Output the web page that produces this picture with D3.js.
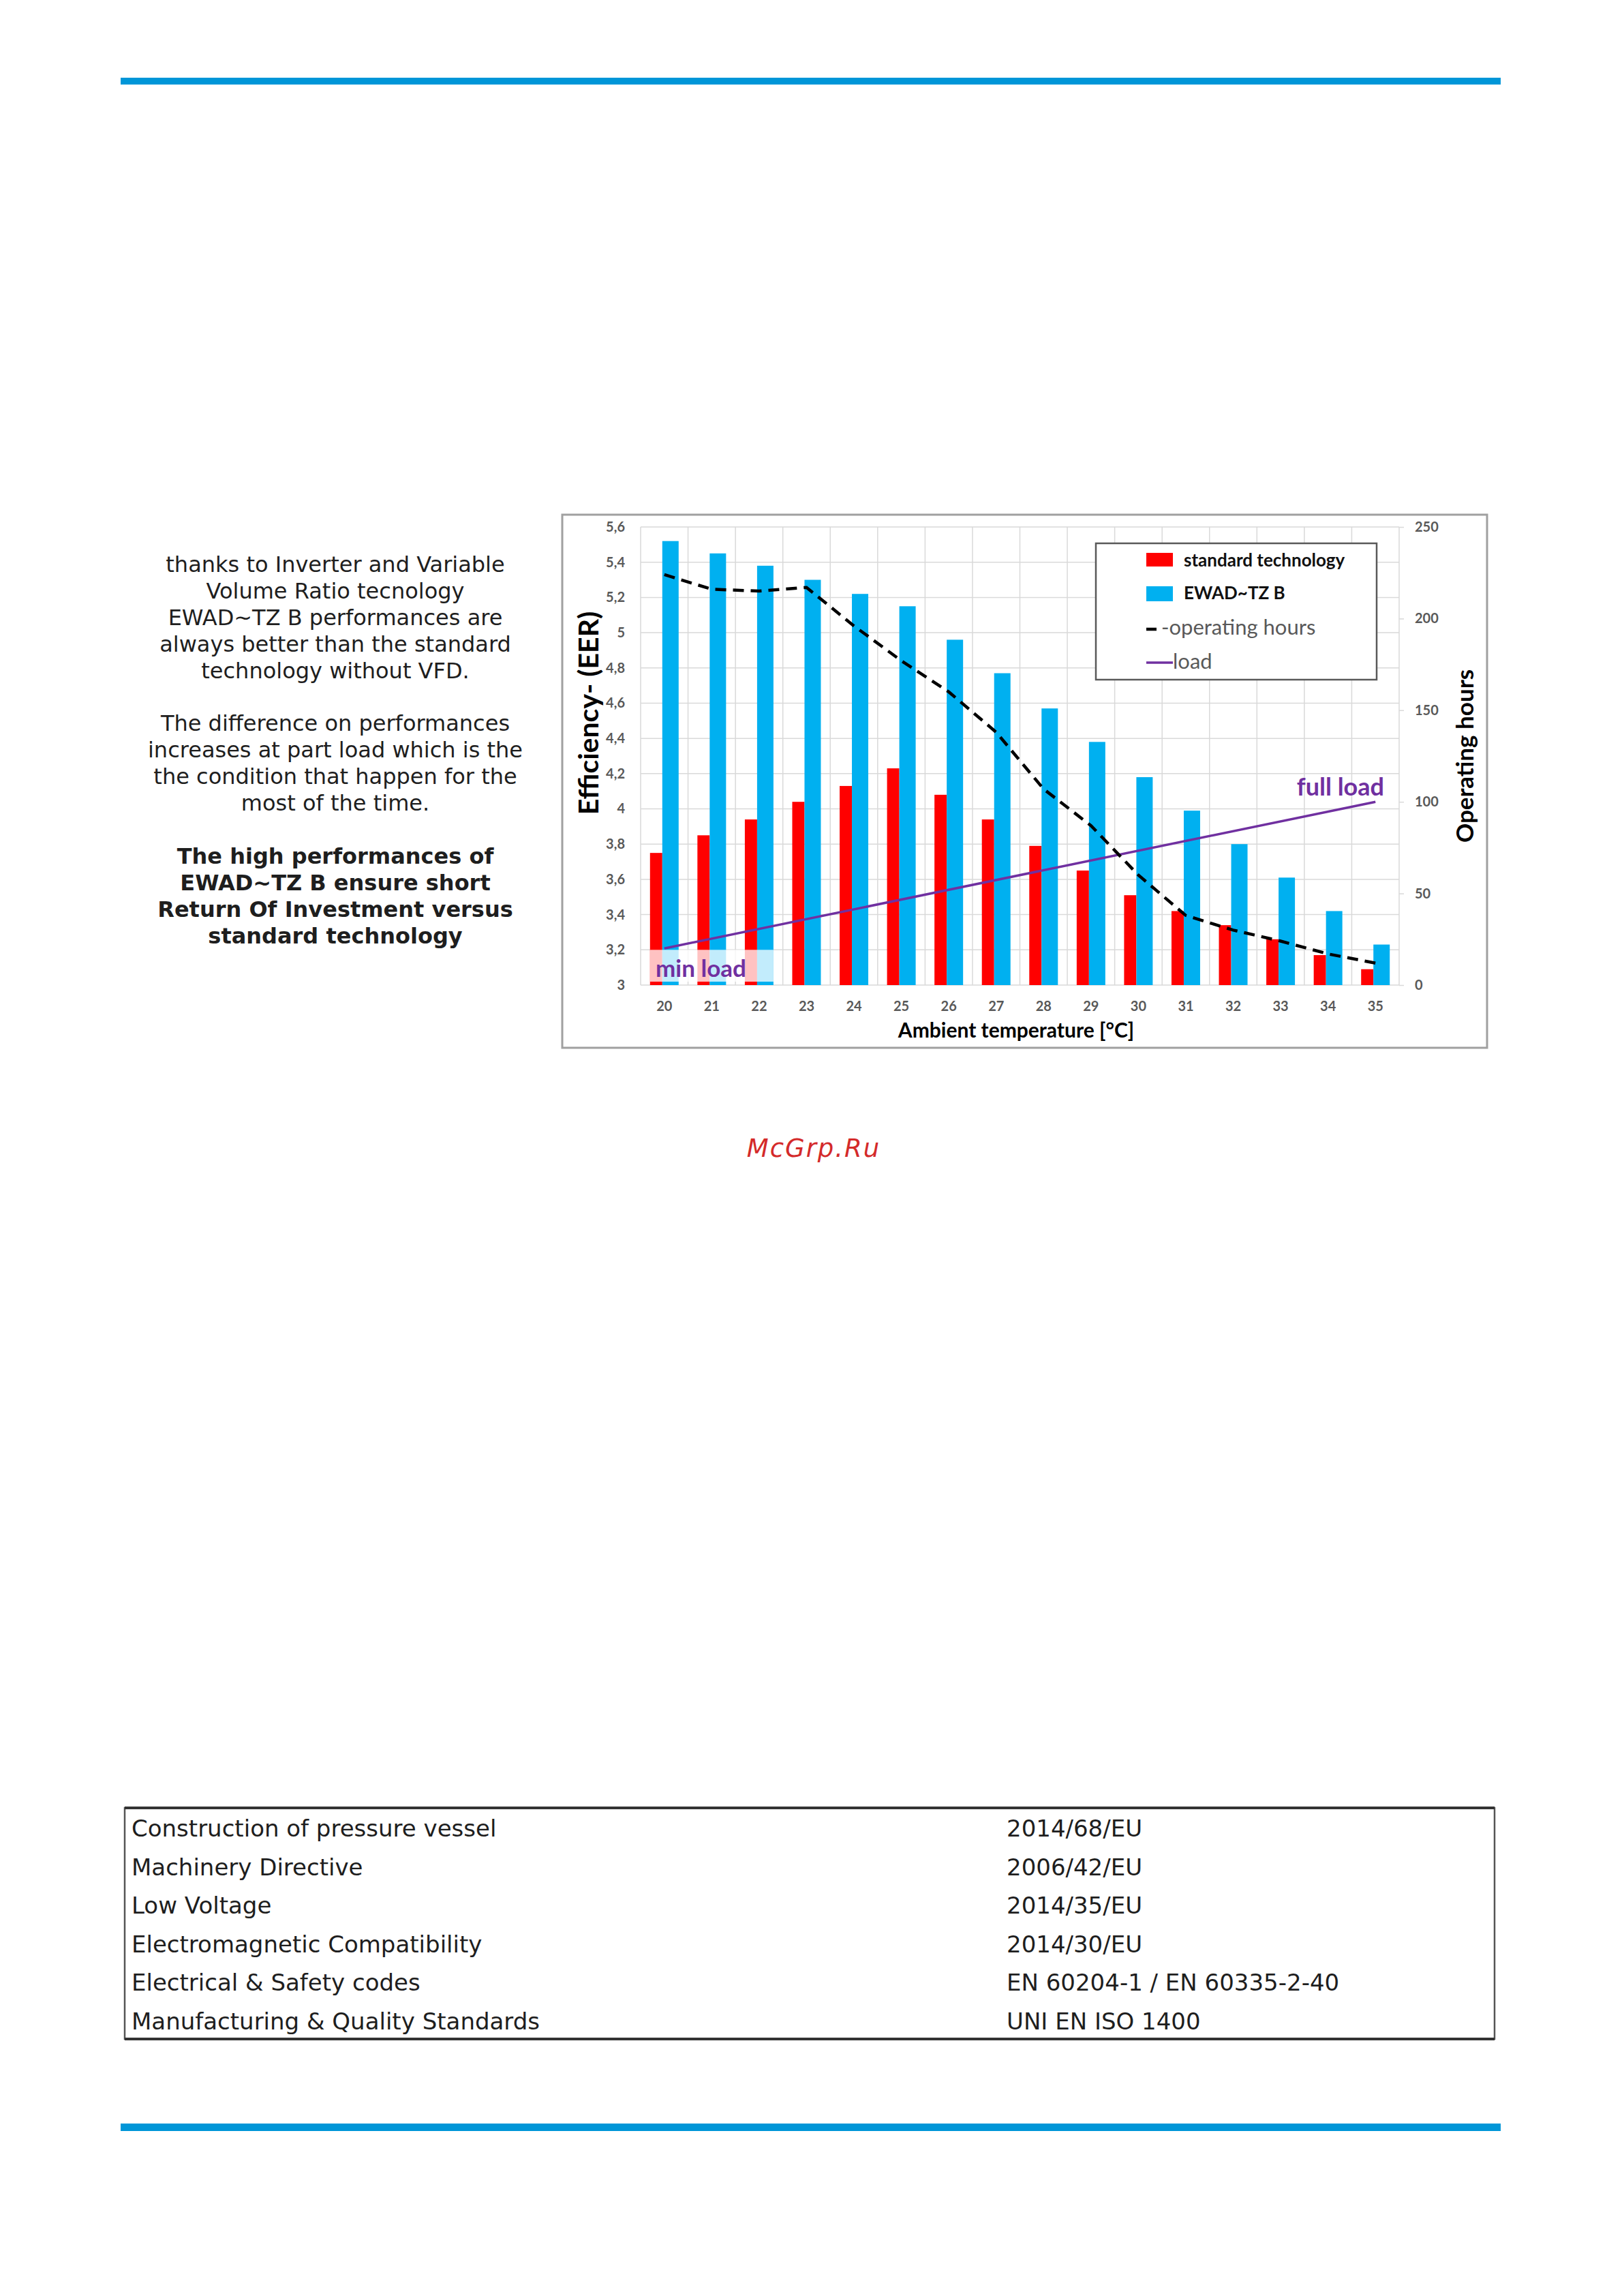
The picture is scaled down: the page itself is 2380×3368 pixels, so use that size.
<!DOCTYPE html>
<html>
<head>
<meta charset="utf-8">
<script src="https://d3js.org/d3.v7.min.js"></script>
<style>
  html, body { margin: 0; padding: 0; background: #fff; }
  svg { display: block; }
</style>
</head>
<body>
<svg id="page" width="2380" height="3368"></svg>
<script>
// chart data
const temps = [20, 21, 22, 23, 24, 25, 26, 27, 28, 29, 30, 31, 32, 33, 34, 35];
const standardEER = [3.75, 3.85, 3.94, 4.04, 4.13, 4.23, 4.08, 3.94, 3.79, 3.65, 3.51, 3.42, 3.34, 3.26, 3.17, 3.09];
const ewadEER = [5.52, 5.45, 5.38, 5.30, 5.22, 5.15, 4.96, 4.77, 4.57, 4.38, 4.18, 3.99, 3.80, 3.61, 3.42, 3.23];
const operatingHours = [224, 216, 215, 217, 196, 177, 160, 138, 107, 87, 60, 38, 30, 24, 17, 12];
const loadTemps = [20, 35];
const loadHours = [20, 100];
const eerTicks = [3, 3.2, 3.4, 3.6, 3.8, 4, 4.2, 4.4, 4.6, 4.8, 5, 5.2, 5.4, 5.6];
const hourTicks = [0, 50, 100, 150, 200, 250];
const minLoadTemps = [20, 21, 22];

const legendItems = ["standard technology", "EWAD~TZ B", "-operating hours", "load"];

const sideText = [
  "thanks to Inverter and Variable",
  "Volume Ratio tecnology",
  "EWAD~TZ B performances are",
  "always better than the standard",
  "technology without VFD.",
  "",
  "The difference on performances",
  "increases at part load which is the",
  "the condition that happen for the",
  "most of the time.",
  "",
  "The high performances of",
  "EWAD~TZ B ensure short",
  "Return Of Investment versus",
  "standard technology"
];
const boldFrom = 11;

const directives = ["Construction of pressure vessel", "Machinery Directive", "Low Voltage",
  "Electromagnetic Compatibility", "Electrical & Safety codes", "Manufacturing & Quality Standards"];
const directiveCodes = ["2014/68/EU", "2006/42/EU", "2014/35/EU", "2014/30/EU",
  "EN 60204-1 / EN 60335-2-40", "UNI EN ISO 1400"];

const RED = "#ff0000", BLUE = "#00b0f0", PURPLE = "#7030a0", GRID = "#d9d9d9";
const chartFont = "Lato, 'Open Sans', sans-serif";

const svg = d3.select("#page");
svg.append("rect").attr("width", 2380).attr("height", 3368).attr("fill", "#fff");

// page rules top and bottom
svg.append("rect").attr("x", 177).attr("y", 114).attr("width", 2025).attr("height", 10).attr("fill", "#0096d8");
svg.append("rect").attr("x", 177).attr("y", 3115).attr("width", 2025).attr("height", 11).attr("fill", "#0096d8");

// side text
const side = svg.append("g").attr("font-family", "'DejaVu Sans', Verdana, sans-serif")
  .attr("font-size", 32).attr("fill", "#1e1e1e").attr("text-anchor", "middle");
side.selectAll("text")
  .data(sideText)
  .enter()
  .append("text")
  .attr("x", 492)
  .attr("y", (d, i) => 839 + i * 38.9)
  .attr("font-weight", (d, i) => i >= boldFrom ? "bold" : "normal")
  .text(d => d);

// chart frame
svg.append("rect")
  .attr("x", 825).attr("y", 755).attr("width", 1357).attr("height", 782)
  .attr("fill", "#fff").attr("stroke", "#a0a0a0").attr("stroke-width", 3);

const x = d3.scaleBand().domain(temps).range([940, 2053]).padding(0);
const yL = d3.scaleLinear().domain([3, 5.6]).range([1445, 773]);
const yR = d3.scaleLinear().domain([0, 250]).range([1445, 773]);
const cx = t => x(t) + x.bandwidth() / 2;

// grid
const grid = svg.append("g").attr("stroke", GRID).attr("stroke-width", 1.5);
grid.selectAll("line.h")
  .data(eerTicks)
  .enter()
  .append("line")
  .attr("x1", 940).attr("x2", 2053)
  .attr("y1", d => yL(d)).attr("y2", d => yL(d));
grid.selectAll("line.v")
  .data(temps.concat(["end"]))
  .enter()
  .append("line")
  .attr("x1", d => d === "end" ? 2053 : x(d))
  .attr("x2", d => d === "end" ? 2053 : x(d))
  .attr("y1", 773).attr("y2", 1445);

// bars
svg.append("g").selectAll("rect")
  .data(temps)
  .enter()
  .append("rect")
  .attr("x", d => cx(d) - 21)
  .attr("width", 18)
  .attr("y", (d, i) => yL(standardEER[i]))
  .attr("height", (d, i) => yL(3) - yL(standardEER[i]))
  .attr("fill", RED);

svg.append("g").selectAll("rect")
  .data(temps)
  .enter()
  .append("rect")
  .attr("x", d => cx(d) - 3)
  .attr("width", 24)
  .attr("y", (d, i) => yL(ewadEER[i]))
  .attr("height", (d, i) => yL(3) - yL(ewadEER[i]))
  .attr("fill", BLUE);

// min load box
svg.append("rect")
  .attr("x", cx(minLoadTemps[0]) - 21)
  .attr("width", cx(minLoadTemps[minLoadTemps.length - 1]) + 21 - (cx(minLoadTemps[0]) - 21))
  .attr("y", yL(3.2))
  .attr("height", yL(3) - yL(3.2) - 5)
  .attr("fill", "#fff").attr("opacity", 0.76);

// load line
svg.append("path")
  .datum(loadTemps.map((t, i) => [cx(t), yR(loadHours[i])]))
  .attr("d", d3.line())
  .attr("fill", "none").attr("stroke", PURPLE).attr("stroke-width", 3.5);

// operating hours
svg.append("path")
  .datum(temps.map((t, i) => [cx(t), yR(operatingHours[i])]))
  .attr("d", d3.line())
  .attr("fill", "none").attr("stroke", "#000").attr("stroke-width", 4.5)
  .attr("stroke-dasharray", "16,10");

// annotations
svg.append("text").attr("x", 962).attr("y", 1433)
  .attr("font-family", chartFont).attr("font-weight", "bold").attr("font-size", 35)
  .attr("fill", PURPLE).text("min load");
svg.append("text").attr("x", 2031).attr("y", 1167).attr("text-anchor", "end")
  .attr("font-family", chartFont).attr("font-weight", "bold").attr("font-size", 36)
  .attr("fill", PURPLE).text("full load");

// axes
const fmt = d => Number.isInteger(d) ? String(d) : String(d).replace(".", ",");

const leftAxis = svg.append("g")
  .attr("transform", "translate(940,0)")
  .call(d3.axisLeft(yL).tickValues(eerTicks).tickFormat(fmt).tickSize(0).tickPadding(23));
leftAxis.select(".domain").remove();

const rightAxis = svg.append("g")
  .attr("transform", "translate(2053,0)")
  .call(d3.axisRight(yR).tickValues(hourTicks).tickSize(7).tickPadding(16));
rightAxis.select(".domain").remove();
rightAxis.selectAll("line").attr("stroke", GRID).attr("stroke-width", 1.5);

const bottomAxis = svg.append("g")
  .attr("transform", "translate(0,1445)")
  .call(d3.axisBottom(x).tickSize(0).tickPadding(24));
bottomAxis.select(".domain").remove();

svg.selectAll(".tick text")
  .attr("font-family", chartFont).attr("font-size", 20).attr("font-weight", "bold").attr("fill", "#595959");

// axis titles
svg.append("text").attr("x", 1491).attr("y", 1522).attr("text-anchor", "middle")
  .attr("font-family", chartFont).attr("font-weight", "bold").attr("font-size", 30)
  .attr("fill", "#000").text("Ambient temperature [°C]");
svg.append("text")
  .attr("transform", "translate(862,1046) rotate(-90)")
  .attr("text-anchor", "middle").attr("dominant-baseline", "central")
  .attr("font-family", chartFont).attr("font-weight", "bold").attr("font-size", 41)
  .attr("fill", "#000").text("Efficiency- (EER)");
svg.append("text")
  .attr("transform", "translate(2148,1109) rotate(-90)")
  .attr("text-anchor", "middle").attr("dominant-baseline", "central")
  .attr("font-family", chartFont).attr("font-weight", "bold").attr("font-size", 35)
  .attr("fill", "#000").text("Operating hours");

// legend
const legend = svg.append("g").attr("font-family", chartFont);
legend.append("rect")
  .attr("x", 1608).attr("y", 797).attr("width", 412).attr("height", 200)
  .attr("fill", "#fff").attr("stroke", "#595959").attr("stroke-width", 2.5);
legend.append("rect").attr("x", 1682).attr("y", 811).attr("width", 39).attr("height", 20).attr("fill", RED);
legend.append("rect").attr("x", 1682).attr("y", 860).attr("width", 39).attr("height", 22).attr("fill", BLUE);
legend.append("line").attr("x1", 1682).attr("x2", 1697).attr("y1", 923).attr("y2", 923)
  .attr("stroke", "#000").attr("stroke-width", 4.5);
legend.append("line").attr("x1", 1682).attr("x2", 1721).attr("y1", 972).attr("y2", 972)
  .attr("stroke", PURPLE).attr("stroke-width", 3.5);
legend.append("text").attr("x", 1737).attr("y", 831).attr("font-size", 26).attr("font-weight", "bold").attr("fill", "#111").text(legendItems[0]);
legend.append("text").attr("x", 1737).attr("y", 879).attr("font-size", 26).attr("font-weight", "bold").attr("fill", "#111").text(legendItems[1]);
legend.append("text").attr("x", 1704).attr("y", 931).attr("font-size", 31).attr("fill", "#595959").text(legendItems[2]);
legend.append("text").attr("x", 1721).attr("y", 981).attr("font-size", 31).attr("fill", "#595959").text(legendItems[3]);

// watermark
svg.append("text").attr("x", 1194).attr("y", 1697).attr("text-anchor", "middle")
  .attr("font-family", "'DejaVu Sans', sans-serif").attr("font-style", "italic")
  .attr("font-size", 37).attr("letter-spacing", 2).attr("fill", "#d42a2a").text("McGrp.Ru");

// directives table
svg.append("rect")
  .attr("x", 183).attr("y", 2652).attr("width", 2010).attr("height", 339)
  .attr("fill", "none").attr("stroke", "#555").attr("stroke-width", 2.5);
svg.append("line").attr("x1", 183).attr("x2", 2193).attr("y1", 2652).attr("y2", 2652)
  .attr("stroke", "#333").attr("stroke-width", 4);
svg.append("line").attr("x1", 183).attr("x2", 2193).attr("y1", 2991).attr("y2", 2991)
  .attr("stroke", "#333").attr("stroke-width", 4);

const table = svg.append("g").attr("font-family", "'DejaVu Sans', Verdana, sans-serif")
  .attr("font-size", 34).attr("fill", "#1e1e1e");
table.selectAll("text.name")
  .data(directives)
  .enter()
  .append("text")
  .attr("x", 193)
  .attr("y", (d, i) => 2694 + i * 56.6)
  .text(d => d);
table.selectAll("text.code")
  .data(directiveCodes)
  .enter()
  .append("text")
  .attr("x", 1477)
  .attr("y", (d, i) => 2694 + i * 56.6)
  .text(d => d);
</script>
</body>
</html>
